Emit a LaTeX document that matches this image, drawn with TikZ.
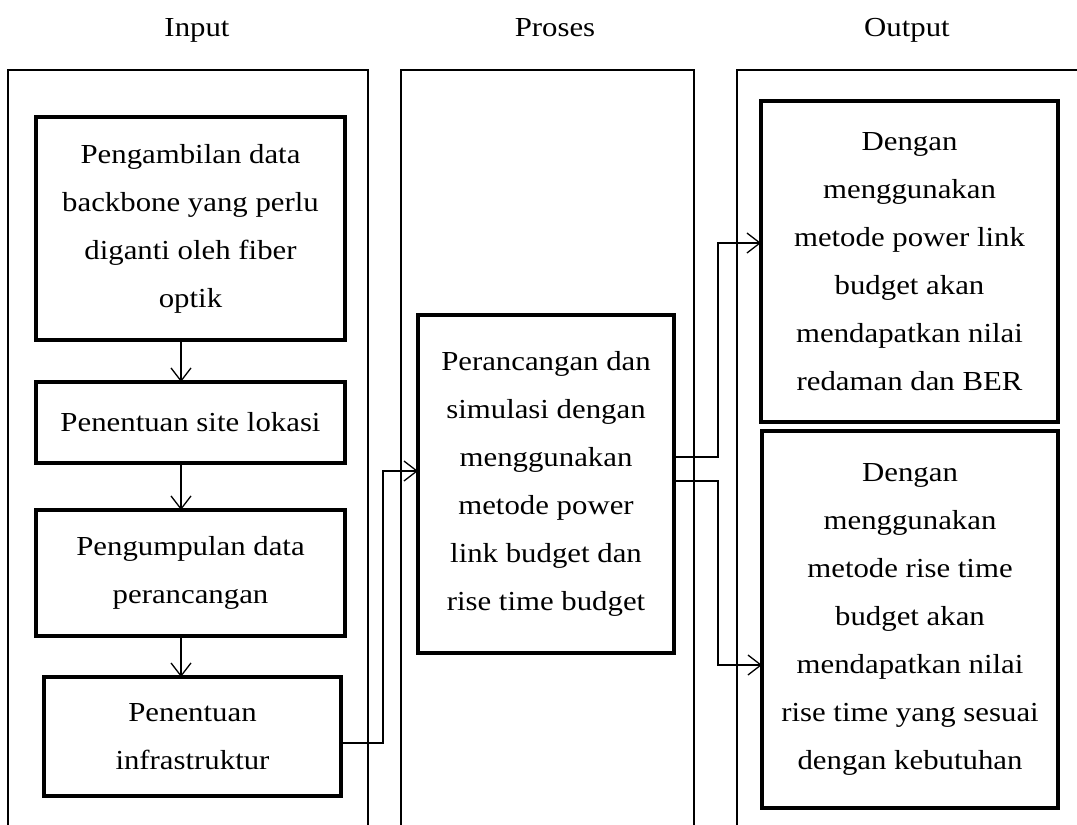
\documentclass[tikz,border=0pt]{standalone}
\usepackage{fontspec}
\setmainfont[FakeStretch=1.12]{Liberation Serif}
\usetikzlibrary{arrows.meta}
\begin{document}
\begin{tikzpicture}[x=1pt,y=-1pt,
  frame/.style={line width=1.3pt},
  box/.style={draw,line width=3.6pt,anchor=north west,inner sep=0pt,outer sep=0pt,
    align=center,font=\fontsize{27.5}{48}\selectfont},
  title/.style={anchor=base,font=\fontsize{27.5}{33}\selectfont},
  arr/.style={line width=1.3pt,-{Straight Barb[length=13pt,width=20pt,line width=1.3pt]}},
  conn/.style={line width=1.3pt}]
\useasboundingbox (0,0) rectangle (1077,825);
% titles
\node[title] (tin) at (197,36) {Input};
\node[title] (tpr) at (555,36) {Proses};
\node[title] (tout) at (907,36) {Output};
% frames
\draw[frame] (8,826) -- (8,70) -- (368,70) -- (368,826);
\draw[frame] (401,826) -- (401,70) -- (694,70) -- (694,826);
\draw[frame] (737,826) -- (737,70) -- (1080,70);
% input boxes
\node[box,minimum width=309pt,minimum height=223pt] (b1) at (36,117)
  {Pengambilan data\\backbone yang perlu\\diganti oleh fiber\\optik};
\node[box,minimum width=309pt,minimum height=81pt] (b2) at (36,382)
  {Penentuan site lokasi};
\node[box,minimum width=309pt,minimum height=126pt] (b3) at (36,510)
  {Pengumpulan data\\perancangan};
\node[box,minimum width=297pt,minimum height=119pt] (b4) at (44,677)
  {Penentuan\\infrastruktur};
% process box
\node[box,minimum width=256pt,minimum height=338pt] (p) at (418,315)
  {Perancangan dan\\simulasi dengan\\menggunakan\\metode power\\link budget dan\\rise time budget};
% output boxes
\node[box,minimum width=297pt,minimum height=321pt] (o1) at (761,101)
  {Dengan\\menggunakan\\metode power link\\budget akan\\mendapatkan nilai\\redaman dan BER};
\node[box,minimum width=296pt,minimum height=377pt] (o2) at (762,431)
  {Dengan\\menggunakan\\metode rise time\\budget akan\\mendapatkan nilai\\rise time yang sesuai\\dengan kebutuhan};
% helper coordinates
\coordinate (ax) at (181,0);
\coordinate (y4) at (0,743);
\coordinate (xa) at (383,0);
\coordinate (yp) at (0,471);
\coordinate (yq1) at (0,457);
\coordinate (yq2) at (0,481);
\coordinate (xb) at (718,0);
\coordinate (yo1) at (0,243);
\coordinate (yo2) at (0,665);
% connectors
\draw[arr] (b1.south -| ax) -- (b2.north -| ax);
\draw[arr] (b2.south -| ax) -- (b3.north -| ax);
\draw[arr] (b3.south -| ax) -- (b4.north -| ax);
\draw[arr] (b4.east |- y4) -- (xa |- y4) -- (xa |- yp) -- (p.west |- yp);
\draw[arr] (p.east |- yq1) -- (xb |- yq1) -- (xb |- yo1) -- (o1.west |- yo1);
\draw[arr] (p.east |- yq2) -- (xb |- yq2) -- (xb |- yo2) -- (o2.west |- yo2);
\end{tikzpicture}
\end{document}
